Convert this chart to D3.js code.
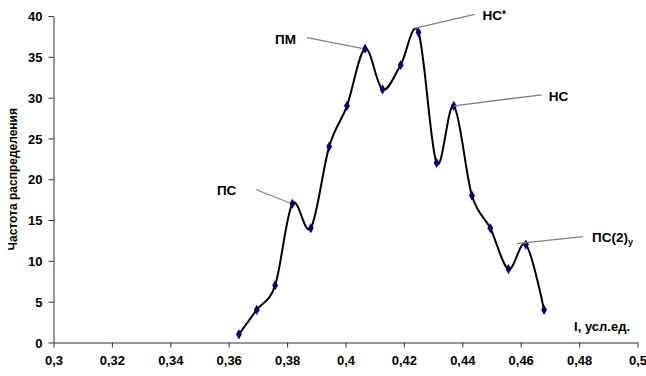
<!DOCTYPE html>
<html>
<head>
<meta charset="utf-8">
<script src="https://cdn.jsdelivr.net/npm/d3@7"></script>
<style>
  html, body { margin: 0; padding: 0; background: #fff; }
  svg { display: block; }
  text { font-family: "Liberation Sans", Arial, sans-serif; }
</style>
</head>
<body>
<svg id="chart" width="646" height="376"></svg>
<script>
// Distribution of I (arb. units) — measured frequencies
const lValues = [0.3635, 0.3696, 0.3759, 0.3818, 0.3881, 0.3944, 0.4005, 0.4067, 0.4127,
                 0.4189, 0.4250, 0.4312, 0.4371, 0.4433, 0.4496, 0.4558, 0.4618, 0.4680];
const frequency = [1, 4, 7, 17, 14, 24, 29, 36, 31, 34, 38, 22, 29, 18, 14, 9, 12, 4];

const xTicks = [0.30, 0.32, 0.34, 0.36, 0.38, 0.40, 0.42, 0.44, 0.46, 0.48, 0.50];
const yTicks = [0, 5, 10, 15, 20, 25, 30, 35, 40];

// Named peaks: label text, superscript / subscript parts and the point it refers to
const peakLabels = ["ПС", "ПМ", "НС", "НС", "ПС(2)"];
const peakSups   = ["", "", "*", "", ""];
const peakSubs   = ["", "", "", "", "у"];
const peakIndex  = [3, 7, 10, 12, 16];

const xTitle = "I, усл.ед.";
const yTitle = "Частота распределения";

// ---- layout ----
const svg = d3.select("#chart");
const x = d3.scaleLinear().domain([0.3, 0.5]).range([53.5, 637.5]);
const y = d3.scaleLinear().domain([0, 40]).range([342.5, 16]);
const comma = d => d3.format(".2~f")(d).replace(".", ",");

// axes
const gx = svg.append("g")
  .attr("transform", `translate(0,${y(0)})`)
  .call(d3.axisBottom(x).tickValues(xTicks).tickSize(5).tickSizeOuter(0).tickPadding(8).tickFormat(comma));
const gy = svg.append("g")
  .attr("transform", `translate(${x(0.3)},0)`)
  .call(d3.axisLeft(y).tickValues(yTicks).tickSize(5).tickSizeOuter(0).tickPadding(6));
[gx, gy].forEach(g => {
  g.select(".domain").attr("stroke", "#333").attr("stroke-width", 1);
  g.selectAll(".tick line").attr("stroke", "#333");
  g.selectAll(".tick text").attr("fill", "#000")
    .style("font-family", "'Liberation Sans', Arial, sans-serif")
    .style("font-size", "13px").style("font-weight", "bold");
});
gy.selectAll(".tick text").attr("dy", "0.36em");

// axis titles
svg.append("text")
  .attr("transform", `translate(17,${(y(0) + y(40)) / 2}) rotate(-90)`)
  .attr("text-anchor", "middle")
  .style("font-size", "12px").style("font-weight", "bold")
  .text(yTitle);
svg.append("text")
  .attr("x", 630).attr("y", 331)
  .attr("text-anchor", "end")
  .style("font-size", "13px").style("font-weight", "bold")
  .text(xTitle);

const pts = lValues.map((v, i) => [v, frequency[i]]);

// smoothed curve
svg.append("path")
  .datum(pts)
  .attr("fill", "none")
  .attr("stroke", "#000")
  .attr("stroke-width", 2)
  .attr("d", d3.line().x(d => x(d[0])).y(d => y(d[1])).curve(d3.curveCardinal.tension(0)));

// markers
svg.append("g").selectAll("path")
  .data(pts)
  .join("path")
  .attr("transform", d => `translate(${x(d[0])},${y(d[1])})`)
  .attr("d", d3.symbol(d3.symbolDiamond, 30))
  .attr("fill", "#000080");

// peak call-outs: leader start offset, leader end offset, text offset, anchor
const callout = [
  { s: [-36, -14], e: [-3, -1], t: [-56, -14], a: "end" },
  { s: [-58, -11], e: [-2, 0],  t: [-69, -10], a: "end" },
  { s: [56, -18],  e: [-4, -4], t: [64, -17],  a: "start" },
  { s: [88, -11],  e: [0, 0],   t: [95, -10],  a: "start" },
  { s: [57, -8],   e: [-9, -1], t: [66, -7],   a: "start" }
];
peakLabels.forEach((lab, k) => {
  const p = pts[peakIndex[k]];
  const px = x(p[0]), py = y(p[1]);
  const c = callout[k];
  svg.append("line")
    .attr("x1", px + c.s[0]).attr("y1", py + c.s[1])
    .attr("x2", px + c.e[0]).attr("y2", py + c.e[1])
    .attr("stroke", "#808080").attr("stroke-width", 1.3);
  const t = svg.append("text")
    .attr("x", px + c.t[0]).attr("y", py + c.t[1])
    .attr("dy", "0.36em")
    .attr("text-anchor", c.a)
    .style("font-size", "13.5px").style("font-weight", "bold")
    .text(lab);
  if (peakSups[k]) {
    t.append("tspan").attr("dy", "-0.2em").style("font-size", "10px").text(peakSups[k]);
  }
  if (peakSubs[k]) {
    t.append("tspan").attr("dy", "0.3em").style("font-size", "9px").text(peakSubs[k]);
  }
});
</script>
</body>
</html>
